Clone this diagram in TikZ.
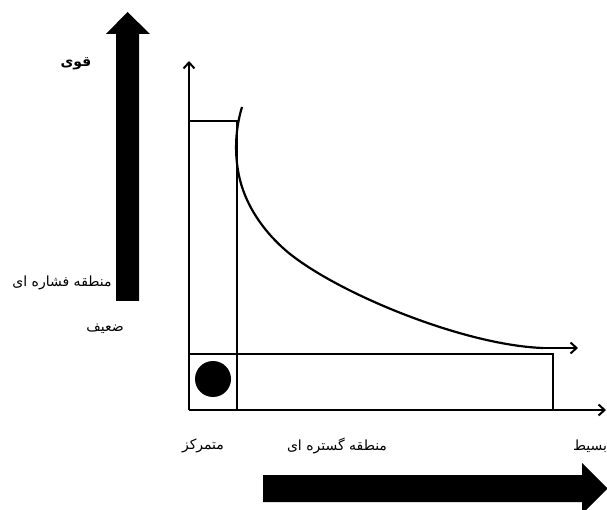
\documentclass[tikz,border=0pt]{standalone}
\usepackage{fontspec}
\newfontfamily\arabicfont[Script=Arabic]{DejaVu Sans}
\TeXXeTstate=1
\usetikzlibrary{arrows.meta}
\tikzset{
  axisline/.style={line width=2.2pt,-{Straight Barb[length=6pt,width=11pt,line width=2pt]}},
  boxline/.style={line width=2.2pt},
  fatarrow/.style={fill=black,draw=none},
  lbl/.style={font=\arabicfont\fontsize{14}{16}\selectfont,inner sep=0pt}
}
\begin{document}
\begin{tikzpicture}[x=1pt,y=-1pt]
\useasboundingbox (0,0) rectangle (607,510);
\clip (0,0) rectangle (607,510);
% coordinates
\coordinate (O) at (189,410);
\coordinate (Ytop) at (189,61);
\coordinate (Xend) at (606,410);
\coordinate (TL) at (189,121);
\coordinate (TR) at (237,121);
\coordinate (TB) at (237,410);
\coordinate (HL) at (189,354);
\coordinate (HR) at (553,354);
\coordinate (HB) at (553,410);
\coordinate (C0) at (242,107);
\coordinate (C1) at (240,180);
\coordinate (C2) at (283,248);
\coordinate (Cs) at (543,348);
\coordinate (Ce) at (578,348);
% thick vertical arrow
\fill[fatarrow] (116,301) -- (116,34) -- (106,34) -- (127.5,12) -- (150,34) -- (139,34) -- (139,301) -- cycle;
% thick horizontal arrow
\fill[fatarrow] (263,475) -- (582,475) -- (582,463) -- (607.5,488.5) -- (582,514) -- (582,502) -- (263,502) -- cycle;
% axes
\draw[axisline] (O) -- (Ytop);
\draw[axisline] (O) -- (Xend);
% boxes
\draw[boxline] (TL) -- (TR) -- (TB);
\draw[boxline] (HL) -- (HR) -- (HB);
% circle
\node[circle,fill=black,minimum size=36pt,inner sep=0pt] (dot) at (213,379) {};
% curve
\draw[boxline] (C0) .. controls (235,130) and (234,156) .. (C1)
  .. controls (246.5,206) and (263,230) .. (C2)
  .. controls (328,289) and (460,345) .. (Cs);
\draw[axisline] (Cs) -- (Ce);
% labels
\node[lbl,font=\arabicfont\bfseries\fontsize{14}{16}\selectfont] (strong) at (76,64) {\beginR قوی\endR};
\node[lbl] (press) at (62,283) {\beginR منطقه فشاره ای\endR};
\node[lbl] (weak) at (105,329) {\beginR ضعیف\endR};
\node[lbl] (conc) at (203,446) {\beginR متمرکز\endR};
\node[lbl] (wide) at (337,446) {\beginR منطقه گستره ای\endR};
\node[lbl,anchor=west] (simple) at (573,446) {\beginR بسیط\endR};
\end{tikzpicture}
\end{document}
